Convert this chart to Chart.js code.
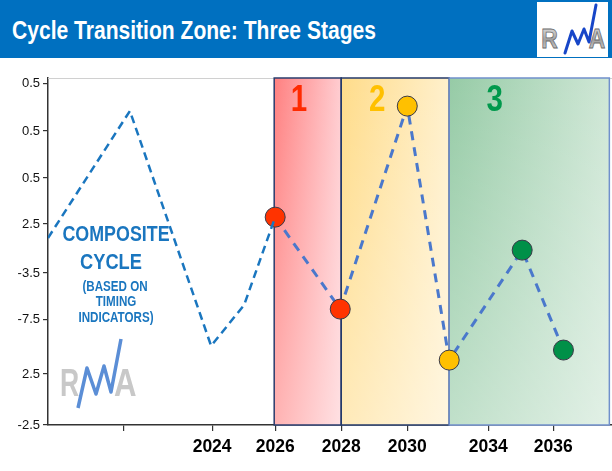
<!DOCTYPE html>
<html>
<head>
<meta charset="utf-8">
<script src="https://cdn.jsdelivr.net/npm/chart.js@4/dist/chart.umd.min.js"></script>
<style>
  html, body { margin:0; padding:0; background:#fff; }
  #wrap { position:relative; width:612px; height:471px; overflow:hidden; background:#fff; }
  #header { position:absolute; left:0; top:0; width:612px; height:58px; background:#0070c0; }
  #title { position:absolute; left:12px; top:15px; color:#fff; font-family:"Liberation Sans",Arial,sans-serif; font-weight:bold; font-size:26px; line-height:30px; white-space:nowrap; transform:scaleX(0.81); transform-origin:0 0; }
  #logo { position:absolute; left:537px; top:2px; width:71px; height:55px; background:#fff; }
  #c { position:absolute; left:0; top:0; }
</style>
</head>
<body>
<div id="wrap">
  <canvas id="c" width="612" height="471"></canvas>
  <div id="header">
    <div id="title">Cycle Transition Zone: Three Stages</div>
    <div id="logo">
      <svg width="71" height="55" viewBox="0 0 71 55">
        <defs>
          <linearGradient id="lg" x1="0" y1="0" x2="0" y2="1">
            <stop offset="0" stop-color="#f0f0f0"/>
            <stop offset="0.55" stop-color="#a0a0a0"/>
            <stop offset="1" stop-color="#d8d8d8"/>
          </linearGradient>
        </defs>
        <text x="5" y="46" font-family="Liberation Sans, Arial, sans-serif" font-weight="bold" font-size="27" fill="url(#lg)" stroke="#6a6a6a" stroke-width="0.8" transform="scale(0.85,1)">R</text>
        <text x="61" y="46" font-family="Liberation Sans, Arial, sans-serif" font-weight="bold" font-size="27" fill="url(#lg)" stroke="#6a6a6a" stroke-width="0.8" transform="scale(0.85,1)">A</text>
        <polyline points="28,51 35,29 41,42 47,27 52,40 59,3" fill="none" stroke="#1746c8" stroke-width="3" stroke-linejoin="round" stroke-linecap="round"/>
      </svg>
    </div>
  </div>
</div>
<script>
// ---- data ----
const xTickPos    = [2021.42, 2024.09, 2026.0, 2028.0, 2030.0, 2032.45, 2034.42];
const xTickLabels = ['', '2024', '2026', '2028', '2030', '2034', '2036'];
const yTickPos    = [98.3, 84.7, 71.2, 57.9, 43.8, 30.5, 14.7, 0];
const yTickLabels = ['0.5', '0.5', '0.5', '2.5', '-3.5', '-7.5', '2.5', '-2.5'];

const compositeX = [2019.12, 2021.6, 2024.06, 2025.06, 2026.0];
const compositeY = [53.9, 90.5, 22.8, 34.6, 59.9];

const stageX = [2026.0, 2027.97, 2030.0, 2031.27, 2033.48, 2034.73];
const stageY = [59.9, 33.4, 91.9, 18.7, 50.4, 21.6];
const stagePointColors = ['#ff3300', '#ff3300', '#ffc000', '#ffc000', '#009048', '#009048'];

const stageNames  = ['1', '2', '3'];
const stageStart  = [2025.97, 2028.0, 2031.27];
const stageEnd    = [2028.0, 2031.27, 2036.12];
const stageTextColors = ['#ff2a00', '#ffc000', '#00994c'];
const stageGrad = [['#ff8080', '#ffcdd1'], ['#ffdc8a', '#fff0cc'], ['#96cba6', '#cfe7d6']];
const stageBorder = ['#2a3c6e', '#243a6a', '#7090cc'];

const compositeLines = ['COMPOSITE', 'CYCLE', '(BASED ON', 'TIMING', 'INDICATORS)'];

const SANS = '"Liberation Sans",Arial,sans-serif';
const xMin = 2019.12, xMax = 2036.2, yMin = 0, yMax = 100;

function narrowText(ctx, text, cx, cy, sx) {
  ctx.save();
  ctx.translate(cx, cy);
  ctx.scale(sx, 1);
  ctx.fillText(text, 0, 0);
  ctx.restore();
}

const bgPlugin = {
  id: 'bg',
  beforeDatasetsDraw(chart) {
    const {ctx, chartArea: a, scales: {x, y}} = chart;
    ctx.save();
    ctx.strokeStyle = '#d0d0d0'; ctx.lineWidth = 1;
    ctx.beginPath(); ctx.moveTo(a.left, a.top + 0.5); ctx.lineTo(a.right, a.top + 0.5); ctx.stroke();
    for (let i = 0; i < stageNames.length; i++) {
      const x0 = x.getPixelForValue(stageStart[i]);
      const x1 = x.getPixelForValue(stageEnd[i]);
      const y0 = a.top, y1 = y.getPixelForValue(yMin);
      const g = ctx.createLinearGradient(x0, y0, x1, y0);
      g.addColorStop(0, stageGrad[i][0]);
      g.addColorStop(1, stageGrad[i][1]);
      ctx.fillStyle = g;
      ctx.fillRect(x0, y0, x1 - x0, y1 - y0);
      const v = ctx.createLinearGradient(x0, y0, x0, y1);
      v.addColorStop(0, 'rgba(255,255,255,0)');
      v.addColorStop(1, 'rgba(255,255,255,0.4)');
      ctx.fillStyle = v;
      ctx.fillRect(x0, y0, x1 - x0, y1 - y0);
    }
    for (let i = 0; i < stageNames.length; i++) {
      const x0 = x.getPixelForValue(stageStart[i]);
      const x1 = x.getPixelForValue(stageEnd[i]);
      const y0 = a.top, y1 = y.getPixelForValue(yMin);
      ctx.strokeStyle = stageBorder[i]; ctx.lineWidth = 1.5;
      ctx.strokeRect(x0, y0, x1 - x0, y1 - y0);
    }
    ctx.textAlign = 'center'; ctx.textBaseline = 'middle';
    ctx.font = 'bold 36px ' + SANS;
    const numX = [2026.72, 2029.09, 2032.65];
    for (let i = 0; i < stageNames.length; i++) {
      ctx.fillStyle = stageTextColors[i];
      narrowText(ctx, stageNames[i], x.getPixelForValue(numX[i]), 101, 0.82);
    }
    ctx.fillStyle = '#1a76bf';
    ctx.font = 'bold 21.5px ' + SANS;
    narrowText(ctx, compositeLines[0], 116, 235, 0.83);
    ctx.font = 'bold 22px ' + SANS;
    narrowText(ctx, compositeLines[1], 111, 263, 0.83);
    ctx.font = 'bold 14px ' + SANS;
    narrowText(ctx, compositeLines[2], 115, 287, 0.83);
    narrowText(ctx, compositeLines[3], 116, 302, 0.83);
    narrowText(ctx, compositeLines[4], 116, 318, 0.83);
    // watermark
    ctx.font = 'bold 39px ' + SANS;
    ctx.fillStyle = '#c8c8c8';
    ctx.textAlign = 'left'; ctx.textBaseline = 'alphabetic';
    narrowText(ctx, 'R', 60, 396, 0.68);
    narrowText(ctx, 'A', 114, 396, 0.8);
    ctx.strokeStyle = '#5b8ed6'; ctx.lineWidth = 3.5; ctx.lineJoin = 'round';
    ctx.beginPath();
    ctx.moveTo(78, 408); ctx.lineTo(87, 368); ctx.lineTo(96, 394); ctx.lineTo(104, 366);
    ctx.lineTo(111, 392); ctx.lineTo(121, 339);
    ctx.stroke();
    ctx.restore();
  }
};

new Chart(document.getElementById('c'), {
  type: 'scatter',
  data: {
    datasets: [
      {
        data: compositeX.map((v, i) => ({x: v, y: compositeY[i]})),
        showLine: true,
        borderColor: '#1a76bf',
        borderWidth: 2.5,
        borderDash: [8, 5],
        pointRadius: 0,
        tension: 0
      },
      {
        data: stageX.map((v, i) => ({x: v, y: stageY[i]})),
        showLine: true,
        borderColor: '#4a78cc',
        borderWidth: 3,
        borderDash: [9, 7],
        pointRadius: 10,
        pointBackgroundColor: stagePointColors,
        pointBorderColor: '#3a3a48',
        pointBorderWidth: 1,
        tension: 0
      }
    ]
  },
  options: {
    responsive: false,
    animation: false,
    events: [],
    layout: { autoPadding: false, padding: { top: 78, right: 0, left: 0, bottom: 0 } },
    plugins: { legend: { display: false }, tooltip: { enabled: false } },
    scales: {
      x: {
        type: 'linear', min: xMin, max: xMax,
        afterBuildTicks(s) { s.ticks = xTickPos.map(v => ({value: v})); },
        afterFit(s) { s.height = 46; },
        ticks: {
          autoSkip: false, maxRotation: 0, padding: 6,
          color: '#000',
          font: { family: SANS, weight: 'bold', size: 17.5 },
          callback: (v, i) => xTickLabels[i]
        },
        grid: { drawOnChartArea: false, drawTicks: true, tickLength: 6, color: '#333', lineWidth: 1.2 },
        border: { display: true, color: '#333', width: 1.5 }
      },
      y: {
        type: 'linear', min: yMin, max: yMax,
        afterBuildTicks(s) { s.ticks = yTickPos.map(v => ({value: v})); },
        afterFit(s) { s.width = 48; },
        ticks: {
          autoSkip: false, padding: 3,
          color: '#111',
          font: { family: SANS, size: 13 },
          callback: (v, i) => yTickLabels[i]
        },
        grid: { drawOnChartArea: false, drawTicks: true, tickLength: 5, color: '#333', lineWidth: 1.2 },
        border: { display: true, color: '#333', width: 1.5 }
      }
    }
  },
  plugins: [bgPlugin]
});
</script>
</body>
</html>
